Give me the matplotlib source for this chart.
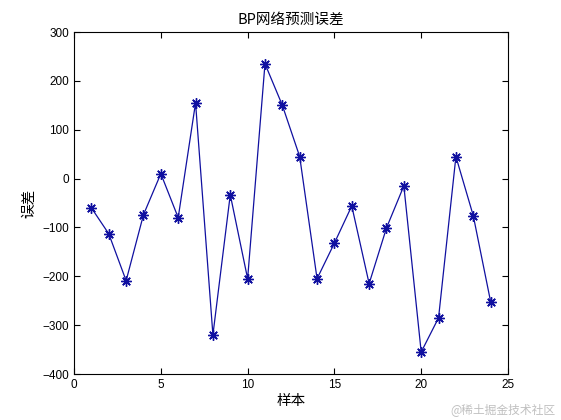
import numpy as np
import matplotlib
matplotlib.use("Agg")
import matplotlib.pyplot as plt

plt.rcParams['font.family'] = ['Liberation Sans', 'Noto Sans CJK SC', 'DejaVu Sans']

samples = list(range(1, 25))
errors = [-60, -113, -209, -74, 10, -80, 155, -320, -33, -205, 235, 150,
          45, -205, -132, -56, -215, -101, -15, -355, -285, 45, -76, -252]

fig = plt.figure(figsize=(5.61, 4.20), dpi=100)
ax = fig.add_axes([0.132, 0.1095, 0.7735, 0.8143])

# MATLAB style '*' marker: 8 spoke asterisk
ax.plot(samples, errors, color='#1010a0', linewidth=0.9, marker=(8, 2, 0),
        markersize=7.5, markeredgewidth=1.0)

ax.set_xlim(0, 25)
ax.set_ylim(-400, 300)
ax.set_xticks([0, 5, 10, 15, 20, 25])
ax.set_yticks(range(-400, 301, 100))
ax.tick_params(direction='in', top=True, right=True, labelsize=8.5, length=4)
for s in ax.spines.values():
    s.set_linewidth(0.8)

ax.set_title('BP网络预测误差', fontsize=10.5, family=['Noto Sans CJK SC', 'DejaVu Sans'])
ax.set_xlabel('样本', fontsize=10.5, family=['Noto Sans CJK SC', 'DejaVu Sans'], labelpad=2)
ax.set_ylabel('误差', fontsize=10.5, family=['Noto Sans CJK SC', 'DejaVu Sans'], labelpad=4)

fig.text(0.99, 0.01, '@稀土掘金技术社区', ha='right', va='bottom', fontsize=8.5,
         color='#c0c0c0', family=['Noto Sans CJK SC', 'DejaVu Sans'])

fig.savefig('out.png', dpi=100)
